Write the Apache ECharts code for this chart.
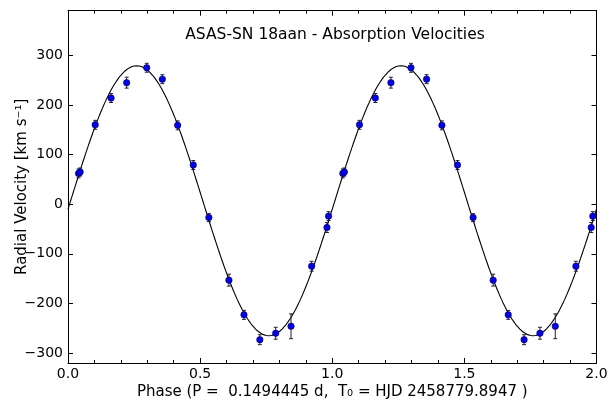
<!DOCTYPE html>
<html>
<head>
<meta charset="utf-8">
<script src="https://cdn.jsdelivr.net/npm/echarts@6/dist/echarts.min.js"></script>
<style>html,body{margin:0;padding:0;background:#fff}#c{width:616px;height:401px}</style>
</head>
<body>
<div id="c"></div>
<script>
// Observed phases (one cycle), radial velocities and errors (km/s)
var phases = [0.040, 0.046, 0.103, 0.163, 0.222, 0.298, 0.357, 0.415, 0.474, 0.533, 0.609, 0.666, 0.726, 0.786, 0.844, 0.922, 0.980, 0.986];
var velocities = [62, 65, 160, 214, 245, 275, 252, 159, 79, -27, -153, -223, -273, -260, -246, -125, -47, -24];
var errors = [9, 8, 9, 9, 11, 9, 9, 9, 9, 8, 12, 9, 10, 12, 25, 10, 10, 9];
// Sinusoidal orbit fit parameters: systemic velocity, semi-amplitude, phase offset
var fitGamma = 7;
var fitK = 272;
var fitPhi = 0.01;
var yTicks = [-300, -200, -100, 0, 100, 200, 300];
var xTicks = [0.0, 0.5, 1.0, 1.5, 2.0];

var FONT = 'DejaVu Sans';
var pts = [];
for (var c = 0; c < 2; c++) {
  for (var i = 0; i < phases.length; i++) {
    pts.push([phases[i] + c, velocities[i], errors[i]]);
  }
}
var curve = [];
var N = 600;
for (var j = 0; j <= N; j++) {
  var p = 2 * j / N;
  curve.push([p, fitGamma + fitK * Math.sin(2 * Math.PI * (p - fitPhi))]);
}
function minus(v) { return String(v).replace('-', '\u2212'); }

var chart = echarts.init(document.getElementById('c'), null, {renderer: 'canvas'});
var axisLine = {show: true, onZero: false, lineStyle: {color: '#000', width: 1}};
var option = {
  animation: false,
  backgroundColor: '#fff',
  grid: {left: 68, right: 19.5, top: 10.7, bottom: 38, containLabel: false, outerBoundsMode: 'none'},
  graphic: [{
    type: 'text', x: 335, y: 35,
    style: {text: 'ASAS-SN 18aan - Absorption Velocities', font: '15.5px "DejaVu Sans"', fill: '#000', align: 'center', verticalAlign: 'middle'}
  }],
  xAxis: [{
    type: 'value', min: 0, max: 2, interval: 0.5,
    axisLine: axisLine,
    axisTick: {inside: true, length: 5, lineStyle: {color: '#000'}},
    minorTick: {show: true, splitNumber: 5, length: 3, lineStyle: {color: '#000'}},
    splitLine: {show: false},
    axisLabel: {fontFamily: FONT, fontSize: 14, color: '#000', margin: 4, formatter: function (v) { return v.toFixed(1); }},
    name: 'Phase (P =  0.1494445 d,  T\u2080 = HJD 2458779.8947 )',
    nameLocation: 'middle', nameGap: 22, nameMoveOverlap: false,
    nameTextStyle: {fontFamily: FONT, fontSize: 15, color: '#000'}
  }, {
    type: 'value', position: 'top', min: 0, max: 2, interval: 0.5,
    axisLine: axisLine,
    axisTick: {inside: true, length: 5, lineStyle: {color: '#000'}},
    minorTick: {show: true, splitNumber: 5, length: 3, lineStyle: {color: '#000'}},
    splitLine: {show: false},
    axisLabel: {show: false}
  }],
  yAxis: [{
    type: 'value', min: -320, max: 390,
    axisLine: axisLine,
    axisTick: {inside: true, length: 5, customValues: yTicks, lineStyle: {color: '#000'}},
    splitLine: {show: false},
    axisLabel: {fontFamily: FONT, fontSize: 14, color: '#000', margin: 5, customValues: yTicks, formatter: minus},
    name: 'Radial Velocity [km s\u207B\u00B9]',
    nameLocation: 'middle', nameGap: 38, nameRotate: 90, nameMoveOverlap: false,
    nameTextStyle: {fontFamily: FONT, fontSize: 15, color: '#000'}
  }, {
    type: 'value', position: 'right', min: -320, max: 390,
    axisLine: axisLine,
    axisTick: {inside: true, length: 5, customValues: yTicks, lineStyle: {color: '#000'}},
    splitLine: {show: false},
    axisLabel: {show: false}
  }],
  series: [{
    type: 'line', data: curve, showSymbol: false, symbol: 'none',
    lineStyle: {color: '#000', width: 1.1}, z: 2, silent: true
  }, {
    type: 'custom', data: pts, z: 3,
    renderItem: function (params, api) {
      var x = api.value(0), y = api.value(1), e = api.value(2);
      var top = api.coord([x, y + e]);
      var bot = api.coord([x, y - e]);
      var cap = 2;
      var st = {stroke: '#222', lineWidth: 1};
      return {type: 'group', children: [
        {type: 'line', shape: {x1: top[0], y1: top[1], x2: bot[0], y2: bot[1]}, style: st},
        {type: 'line', shape: {x1: top[0] - cap, y1: top[1], x2: top[0] + cap, y2: top[1]}, style: st},
        {type: 'line', shape: {x1: bot[0] - cap, y1: bot[1], x2: bot[0] + cap, y2: bot[1]}, style: st}
      ]};
    },
    encode: {x: 0, y: 1}
  }, {
    type: 'scatter', data: pts, symbol: 'circle', symbolSize: 6.5, z: 4,
    itemStyle: {color: '#0000ff', borderColor: '#000', borderWidth: 0.5, opacity: 1}
  }]
};
chart.setOption(option);
</script>
</body>
</html>
